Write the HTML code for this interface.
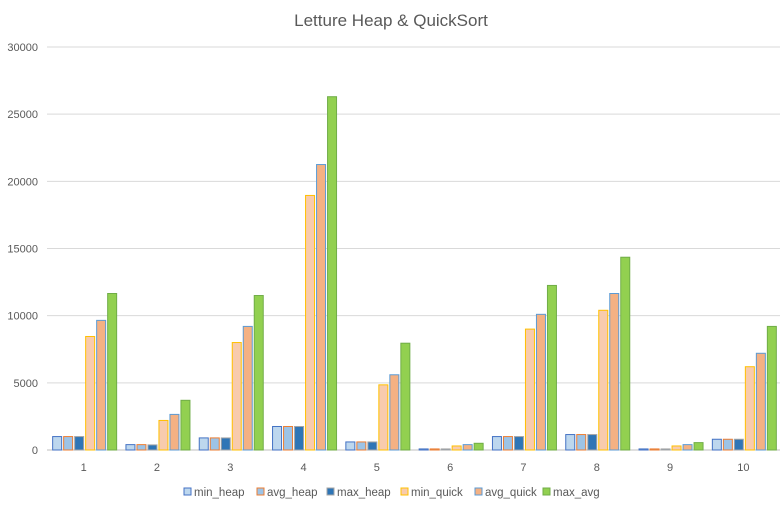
<!DOCTYPE html>
<html><head><meta charset="utf-8"><style>
body{margin:0;background:#fff;font-family:"Liberation Sans",sans-serif}
</style></head><body>
<svg id="c" width="782" height="514" xmlns="http://www.w3.org/2000/svg" style="display:block">
<rect x="0" y="0" width="782" height="514" fill="#fff"/>
<text x="391" y="26" text-anchor="middle" font-size="17" fill="#595959">Letture Heap &amp; QuickSort</text>
<g id="grid"></g><g id="bars"></g><g id="legend"></g>
</svg>
<script>
const categories=["1","2","3","4","5","6","7","8","9","10"];
const minHeap=[1000,400,900,1750,600,80,1000,1150,80,800];
const avgHeap=[1000,400,900,1750,600,80,1000,1150,80,800];
const maxHeap=[1000,380,900,1750,600,80,1000,1150,80,800];
const minQuick=[8450,2200,8000,18950,4850,300,9000,10400,300,6200];
const avgQuick=[9650,2650,9200,21250,5600,400,10100,11650,400,7200];
const maxAvg=[11650,3700,11500,26300,7950,500,12250,14350,550,9200];
const yTicks=[0,5000,10000,15000,20000,25000,30000];
const seriesNames=["min_heap","avg_heap","max_heap","min_quick","avg_quick","max_avg"];
const series=[minHeap,avgHeap,maxHeap,minQuick,avgQuick,maxAvg];
const fills=["#bdd7ee","#9dc3e6","#2e75b6","#f8cbad","#f4b183","#92d050"];
const strokes=["#4472c4","#ed7d31","#a5a5a5","#ffc000","#5b9bd5","#70ad47"];
const NS="http://www.w3.org/2000/svg";
const X0=47,X1=780,Y0=450,Y1=47,YMAX=30000;
const y=v=>Y0-(v/YMAX)*(Y0-Y1);
const cw=(X1-X0)/categories.length;
const cx=i=>X0+cw*(i+0.5);
function mk(t,a,p){const e=document.createElementNS(NS,t);for(const k in a)e.setAttribute(k,a[k]);p.appendChild(e);return e;}
const grid=document.getElementById('grid');
yTicks.forEach(t=>{
 const l=mk('line',{x1:X0,x2:X1,y1:y(t),y2:y(t),stroke:t===0?'#bfbfbf':'#d9d9d9','stroke-width':1},grid);
 
 
 const tx=mk('text',{x:38,y:y(t)+4,'text-anchor':'end','font-size':11,fill:'#595959'},grid);
 tx.textContent=t;
 
 
});
const bars=document.getElementById('bars');
categories.forEach((c,i)=>{
 series.forEach((s,j)=>{
  const bx=cx(i)-31.5+j*11;
  const r=mk('rect',{x:bx+0.5,y:y(s[i]),width:9,height:Y0-y(s[i]),fill:fills[j],stroke:strokes[j],'stroke-width':1},bars);
  
  
 });
 const tx=mk('text',{x:cx(i),y:471,'text-anchor':'middle','font-size':11,fill:'#595959'},bars);
 tx.textContent=c;
 
 
});
const leg=document.getElementById('legend');
const lx=[184,257,327,401,475,543];
seriesNames.forEach((n,j)=>{
 const g=mk('g',{},leg);
 
 
 mk('rect',{x:lx[j],y:488,width:7,height:7,fill:fills[j],stroke:strokes[j],'stroke-width':1},g);
 const t=mk('text',{x:lx[j]+10,y:496,'font-size':11.5,fill:'#595959'},g);
 t.textContent=n;
});
</script>
</body></html>
